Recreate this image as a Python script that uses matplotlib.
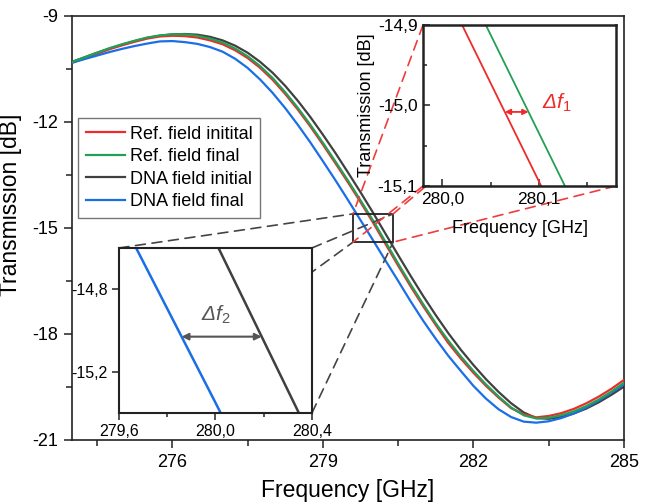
import numpy as np
import matplotlib
matplotlib.use('Agg')
import matplotlib.pyplot as plt
from matplotlib.patches import Rectangle, ConnectionPatch
from matplotlib.ticker import FixedLocator, FixedFormatter

plt.rcParams['font.family'] = ['Liberation Sans', 'DejaVu Sans']
plt.rcParams['mathtext.fontset'] = 'custom'
plt.rcParams['mathtext.rm'] = 'Liberation Sans'
plt.rcParams['mathtext.it'] = 'Liberation Sans:italic'
plt.rcParams['axes.unicode_minus'] = False

# ---------------- data ----------------
freq = [274.00, 274.25, 274.50, 274.75, 275.00, 275.25, 275.50, 275.75,
        276.00, 276.25, 276.50, 276.75, 277.00, 277.25, 277.50, 277.75,
        278.00, 278.25, 278.50, 278.75, 279.00, 279.25, 279.50, 279.75,
        280.00, 280.25, 280.50, 280.75, 281.00, 281.25, 281.50, 281.75,
        282.00, 282.25, 282.50, 282.75, 283.00, 283.25, 283.50, 283.75,
        284.00, 284.25, 284.50, 284.75, 285.00]

ref_initial = [-10.33, -10.20, -10.07, -9.94, -9.83, -9.73, -9.64, -9.58,
               -9.56, -9.57, -9.61, -9.69, -9.80, -9.97, -10.19, -10.47,
               -10.81, -11.21, -11.65, -12.13, -12.64, -13.17, -13.71, -14.27,
               -14.85, -15.46, -16.07, -16.66, -17.22, -17.75, -18.26, -18.70,
               -19.10, -19.47, -19.80, -20.10, -20.27, -20.36, -20.32, -20.24,
               -20.12, -19.96, -19.77, -19.55, -19.30]

ref_final = [-10.30, -10.17, -10.04, -9.91, -9.80, -9.70, -9.61, -9.55,
             -9.52, -9.52, -9.56, -9.64, -9.75, -9.92, -10.14, -10.42,
             -10.76, -11.16, -11.60, -12.08, -12.59, -13.12, -13.66, -14.22,
             -14.79, -15.40, -16.01, -16.60, -17.16, -17.70, -18.19, -18.64,
             -19.05, -19.43, -19.77, -20.08, -20.30, -20.39, -20.37, -20.30,
             -20.19, -20.04, -19.85, -19.63, -19.38]

dna_initial = [-10.30, -10.17, -10.04, -9.92, -9.81, -9.71, -9.62, -9.56,
               -9.52, -9.51, -9.53, -9.59, -9.69, -9.84, -10.04, -10.30,
               -10.61, -10.98, -11.40, -11.86, -12.36, -12.88, -13.43, -13.99,
               -14.57, -15.17, -15.77, -16.36, -16.93, -17.47, -17.98, -18.45,
               -18.88, -19.28, -19.64, -19.96, -20.22, -20.38, -20.40, -20.35,
               -20.25, -20.11, -19.93, -19.72, -19.49]

dna_final = [-10.32, -10.22, -10.12, -10.02, -9.93, -9.85, -9.78, -9.72,
             -9.71, -9.74, -9.79, -9.88, -10.01, -10.21, -10.47, -10.80,
             -11.18, -11.61, -12.08, -12.58, -13.11, -13.65, -14.21, -14.78,
             -15.35, -15.93, -16.50, -17.08, -17.63, -18.14, -18.62, -19.05,
             -19.47, -19.83, -20.13, -20.35, -20.48, -20.51, -20.47, -20.38,
             -20.25, -20.08, -19.88, -19.66, -19.43]

series_labels = ['Ref. field initital', 'Ref. field final',
                 'DNA field initial', 'DNA field final']

main_xticks = [276, 279, 282, 285]
main_yticks = [-9, -12, -15, -18, -21]

inset1_xticks = [280.0, 280.1]
inset1_xticklabels = ['280,0', '280,1']
inset1_yticks = [-14.9, -15.0, -15.1]
inset1_yticklabels = ['-14,9', '-15,0', '-15,1']

inset2_xticks = [279.6, 280.0, 280.4]
inset2_xticklabels = ['279,6', '280,0', '280,4']
inset2_yticks = [-14.8, -15.2]
inset2_yticklabels = ['-14,8', '-15,2']

df1_level = -15.008
df2_level = -15.03

# ---------------- styling ----------------
RED = '#ee2b2b'
GREEN = '#22a055'
BLACK = '#404040'
BLUE = '#1a6ee6'
colors = [RED, GREEN, BLACK, BLUE]
zorders = [3, 5, 2, 4]

fig = plt.figure(figsize=(6.48, 5.04), dpi=100)
ax = fig.add_axes([0.1111, 0.1270, 0.8519, 0.8413])

all_series = [ref_initial, ref_final, dna_initial, dna_final]
for y, lab, c, z in zip(all_series, series_labels, colors, zorders):
    ax.plot(freq, y, color=c, lw=1.6, label=lab, zorder=z)

ax.set_xlim(274, 285)
ax.set_ylim(-21, -9)
ax.xaxis.set_major_locator(FixedLocator(main_xticks))
ax.yaxis.set_major_locator(FixedLocator(main_yticks))
ax.xaxis.set_minor_locator(FixedLocator([274.5, 277.5, 280.5, 283.5]))
ax.yaxis.set_minor_locator(FixedLocator([-10.5, -13.5, -16.5, -19.5]))
ax.xaxis.set_major_formatter(FixedFormatter([str(v) for v in main_xticks]))
ax.yaxis.set_major_formatter(FixedFormatter([str(v) for v in main_yticks]))
ax.tick_params(which='both', direction='out', top=False, right=False,
               labelsize=13, width=1.1, color='#222222')
ax.tick_params(which='major', length=6, pad=4)
ax.tick_params(which='minor', length=4)
for s in ax.spines.values():
    s.set_linewidth(1.2)
    s.set_color('#222222')
ax.set_xlabel('Frequency [GHz]', fontsize=16.5, labelpad=6)
ax.set_ylabel('Transmission [dB]', fontsize=16.5)
ax.yaxis.set_label_coords(-0.09, 0.555)

leg = ax.legend(loc='upper left', bbox_to_anchor=(0.0109, 0.759),
                borderaxespad=0, fontsize=13, frameon=True, fancybox=False,
                edgecolor='#777777', framealpha=1, handlelength=2.2,
                labelspacing=0.3, borderpad=0.42, handletextpad=0.25)
leg.get_frame().set_linewidth(1.0)

# ---------------- insets ----------------
ax2 = fig.add_axes([0.1836, 0.1806, 0.2978, 0.3274])
ax2.plot(freq, dna_initial, color=BLACK, lw=1.8)
ax2.plot(freq, dna_final, color=BLUE, lw=1.8)
ax2.set_xlim(inset2_xticks[0], inset2_xticks[-1])
ax2.set_ylim(-15.4, -14.6)
ax2.xaxis.set_major_locator(FixedLocator(inset2_xticks))
ax2.xaxis.set_major_formatter(FixedFormatter(inset2_xticklabels))
ax2.yaxis.set_major_locator(FixedLocator(inset2_yticks))
ax2.yaxis.set_major_formatter(FixedFormatter(inset2_yticklabels))
ax2.xaxis.set_minor_locator(FixedLocator([279.8, 280.2]))
ax2.tick_params(which='both', direction='out', top=False, right=False,
                labelsize=11.5, width=1.1, color='#222222')
ax2.tick_params(which='major', length=5, pad=3)
ax2.tick_params(which='minor', length=3)
for s in ax2.spines.values():
    s.set_linewidth(1.5)
    s.set_color('#222222')

ax1 = fig.add_axes([0.6528, 0.6310, 0.2978, 0.3194])
ax1.plot(freq, ref_initial, color=RED, lw=1.3)
ax1.plot(freq, ref_final, color=GREEN, lw=1.3)
ax1.set_xlim(279.98, 280.18)
ax1.set_ylim(-15.1, -14.9)
ax1.xaxis.set_major_locator(FixedLocator(inset1_xticks))
ax1.xaxis.set_major_formatter(FixedFormatter(inset1_xticklabels))
ax1.yaxis.set_major_locator(FixedLocator(inset1_yticks))
ax1.yaxis.set_major_formatter(FixedFormatter(inset1_yticklabels))
ax1.xaxis.set_minor_locator(FixedLocator([280.05, 280.15]))
ax1.yaxis.set_minor_locator(FixedLocator([-14.95, -15.05]))
ax1.tick_params(which='both', direction='in', top=False, right=False,
                labelsize=12.5, width=1.1, color='#222222')
ax1.tick_params(which='major', length=5, pad=4)
ax1.tick_params(which='minor', length=3)
for s in ax1.spines.values():
    s.set_linewidth(1.8)
    s.set_color('#222222')
ax1.set_xlabel('Frequency [GHz]', fontsize=13, labelpad=10)
ax1.set_ylabel('Transmission [dB]', fontsize=13, labelpad=2)


def crossing(xs, ys, level, lo=279.0, hi=281.5):
    xs = np.asarray(xs)
    ys = np.asarray(ys)
    m = (xs >= lo) & (xs <= hi)
    return float(np.interp(level, ys[m][::-1], xs[m][::-1]))


# delta f1 arrow (red -> green)
x_r = crossing(freq, ref_initial, df1_level)
x_g = crossing(freq, ref_final, df1_level)
ax1.annotate('', xy=(x_g, df1_level), xytext=(x_r, df1_level),
             arrowprops=dict(arrowstyle='<|-|>', color=RED, lw=1.3,
                             shrinkA=0, shrinkB=0, mutation_scale=8))
ax1.text(x_g + 0.014, df1_level + 0.011, 'Δ$f_1$', color=RED, fontsize=15,
         style='italic', va='center', ha='left')

# delta f2 arrow (blue -> black)
x_b = crossing(freq, dna_final, df2_level)
x_k = crossing(freq, dna_initial, df2_level)
ax2.annotate('', xy=(x_k, df2_level), xytext=(x_b, df2_level),
             arrowprops=dict(arrowstyle='<|-|>', color='#555555', lw=1.5,
                             shrinkA=0, shrinkB=0, mutation_scale=10))
ax2.text(x_b + 0.08, df2_level + 0.105, 'Δ$f_2$', color='#555555',
         fontsize=15, style='italic', va='center', ha='left')

# zoom rectangle in main plot (region of inset 2)
x0, x1 = ax2.get_xlim()
y0, y1 = ax2.get_ylim()
ax.add_patch(Rectangle((x0, y0), x1 - x0, y1 - y0, fill=False,
                       ec='#222222', lw=1.3, zorder=6))

corners = [((0, 1), (x0, y1)), ((1, 1), (x1, y1)),
           ((0, 0), (x0, y0)), ((1, 0), (x1, y0))]
for (fa, pb) in corners:
    con = ConnectionPatch(xyA=fa, coordsA=ax2.transAxes, xyB=pb,
                          coordsB=ax.transData, color='#444444', lw=1.2,
                          linestyle=(0, (6, 4)), zorder=7, clip_on=False)
    ax.add_artist(con)
    con = ConnectionPatch(xyA=fa, coordsA=ax1.transAxes, xyB=pb,
                          coordsB=ax.transData, color='#f03c3c', lw=1.2,
                          linestyle=(0, (6, 4)), zorder=7, clip_on=False)
    ax.add_artist(con)

fig.savefig('out.png', dpi=100)
